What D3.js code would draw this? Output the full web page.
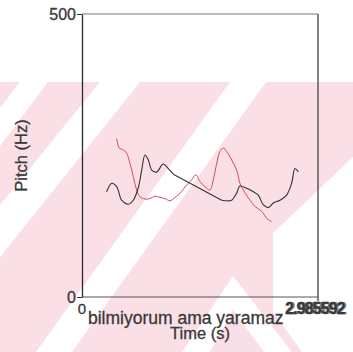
<!DOCTYPE html>
<html>
<head>
<meta charset="utf-8">
<script src="https://cdn.jsdelivr.net/npm/d3@7"></script>
<style>
  html, body { margin: 0; padding: 0; background: #ffffff; }
  svg { display: block; }
  text { font-family: "Liberation Sans", Arial, sans-serif; fill: #383838; stroke: #383838; stroke-width: 0.3px; }
</style>
</head>
<body>
<svg id="chart" width="353" height="352"></svg>
<script>
// ---- data ----
const timeDomain = [0, 2.985592];
const pitchDomain = [0, 500];
const yTickValues = [0, 500];
const xTickLabels = ["0", "2.985592"];
const sentenceLabel = "bilmiyorum ama yaramaz";
const xAxisTitle = "Time (s)";
const yAxisTitle = "Pitch (Hz)";

// speaker 1 (black) pitch contour: time (s), pitch (Hz)
const blackTime  = [0.312,0.376,0.439,0.502,0.586,0.649,0.712,0.755,0.797,0.839,0.882,0.945,1.028,1.092,1.155,1.767,1.830,1.894,1.957,1.998,2.083,2.167,2.230,2.293,2.356,2.420,2.504,2.589,2.652,2.694,2.736];
const blackPitch = [186,201,195,171,164,171,193,224,251,242,224,221,235,227,217,171,170,171,184,196,192,186,180,163,158,166,171,180,201,227,221];

// speaker 2 (red) pitch contour
const redTime  = [0.439,0.472,0.522,0.565,0.607,0.649,0.692,0.734,0.797,0.860,0.923,0.987,1.050,1.113,1.176,1.239,1.324,1.387,1.442,1.492,1.556,1.619,1.661,1.704,1.745,1.787,1.830,1.894,1.957,1.998,2.040,2.125,2.188,2.251,2.293,2.336,2.399];
const redPitch = [280,263,260,254,236,213,189,177,173,174,178,176,174,170,176,183,198,207,216,204,195,189,207,236,257,263,257,242,224,201,189,171,160,154,148,139,133];

// ---- drawing ----
const svg = d3.select("#chart");
const W = 353, H = 352;

// background watermark (decorative stripes)
const wm = svg.append("g");
wm.append("rect").attr("x", 0).attr("y", 82).attr("width", W).attr("height", H - 82).attr("fill", "#fae0e6");
const whiteBands = [
  [[0,108],[20,82],[48,82],[0,146]],
  [[0,205],[100,82],[140,82],[0,257]],
  [[36,352],[230,82],[266,82],[72,352]],
  [[182,352],[233,276],[292,352],[264,352],[233,310],[210,352]],
  [[273,233],[353,157],[353,352],[302,352],[273,312]]
];
whiteBands.forEach(p => wm.append("polygon").attr("points", p.map(q => q.join(",")).join(" ")).attr("fill", "#ffffff"));

const x = d3.scaleLinear().domain(timeDomain).range([82, 318]);
const y = d3.scaleLinear().domain(pitchDomain).range([297, 14]);

// frame
const frame = svg.append("g").attr("fill", "none");
frame.append("line").attr("x1", x(timeDomain[0])).attr("x2", x(timeDomain[1])).attr("y1", y(pitchDomain[1])).attr("y2", y(pitchDomain[1])).attr("stroke", "#777").attr("stroke-width", 1);
frame.append("line").attr("x1", x(timeDomain[0])).attr("x2", x(timeDomain[1])).attr("y1", y(pitchDomain[0])).attr("y2", y(pitchDomain[0])).attr("stroke", "#555").attr("stroke-width", 1);
frame.append("line").attr("x1", x(timeDomain[1])).attr("x2", x(timeDomain[1])).attr("y1", y(pitchDomain[1])).attr("y2", y(pitchDomain[0]) + 4).attr("stroke", "#333").attr("stroke-width", 1.2);

// y axis
const yAxis = d3.axisLeft(y).tickValues(yTickValues).tickSize(5).tickSizeOuter(0).tickPadding(1);
const gy = svg.append("g").attr("transform", `translate(${x(timeDomain[0])},0)`).call(yAxis);
gy.select(".domain").attr("stroke", "#2a2a2a").attr("stroke-width", 1.3);
gy.selectAll(".tick line").attr("stroke", "#333");
gy.selectAll(".tick text").style("font-size", "16px").style("font-family", "'Liberation Sans', Arial, sans-serif").attr("fill", "#383838");

// x tick labels
svg.append("text").attr("x", x(timeDomain[0])).attr("y", 314).attr("text-anchor", "middle").style("font-size", "15px").text(xTickLabels[0]);
svg.append("text").attr("x", 285).attr("y", 314).style("font-size", "16px").style("font-weight", "bold").style("letter-spacing", "-0.9px").text(xTickLabels[1]);
svg.append("text").attr("x", 286.5).attr("y", 314).style("font-size", "16px").style("font-weight", "bold").style("letter-spacing", "-0.9px").attr("opacity", 0.6).text("2.988892");

// sentence label
svg.append("text").attr("x", 88).attr("y", 324).style("font-size", "17.5px").text(sentenceLabel);

// axis titles
svg.append("text").attr("x", (x(timeDomain[0]) + x(timeDomain[1])) / 2).attr("y", 339).attr("text-anchor", "middle").style("font-size", "16.5px").text(xAxisTitle);
svg.append("text").attr("transform", `translate(27,${(y(0) + y(500)) / 2}) rotate(-90)`).attr("text-anchor", "middle").style("font-size", "16.5px").text(yAxisTitle);

// contours
const lineGen = d3.line().x(d => x(d[0])).y(d => y(d[1])).curve(d3.curveCatmullRom.alpha(0.5));
svg.append("path").datum(d3.zip(redTime, redPitch)).attr("d", lineGen).attr("fill", "none").attr("stroke", "#d24a64").attr("stroke-width", 1);
const blackAll = d3.zip(blackTime, blackPitch);
svg.append("path").datum(blackAll.slice(0, 15)).attr("d", lineGen).attr("fill", "none").attr("stroke", "#333").attr("stroke-width", 1.1);
svg.append("path").datum(blackAll.slice(14, 16)).attr("d", d3.line().x(d => x(d[0])).y(d => y(d[1]))).attr("fill", "none").attr("stroke", "#333").attr("stroke-width", 1.1);
svg.append("path").datum(blackAll.slice(15)).attr("d", lineGen).attr("fill", "none").attr("stroke", "#333").attr("stroke-width", 1.1);
</script>
</body>
</html>
